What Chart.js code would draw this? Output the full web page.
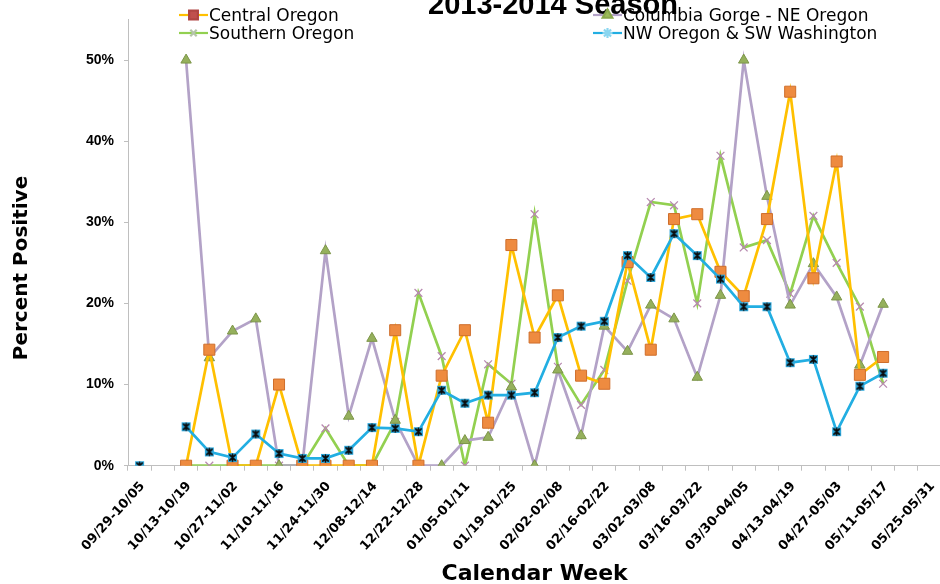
<!DOCTYPE html>
<html><head><meta charset="utf-8">
<script src="https://cdn.jsdelivr.net/npm/chart.js@4.4.1/dist/chart.umd.min.js"></script>
<style>
html,body{margin:0;padding:0;background:#fff;overflow:hidden;width:940px;height:584px}
#wrap{position:absolute;left:0;top:0;width:950px;height:584px}
</style></head><body>
<div id="wrap"><canvas id="c" width="950" height="584"></canvas></div>
<script>
const chartTitle = '2013-2014 Season';
const xAxisTitle = 'Calendar Week';
const yAxisTitle = 'Percent Positive';
const seriesNames = ['Central Oregon', 'Columbia Gorge - NE Oregon', 'Southern Oregon', 'NW Oregon & SW Washington'];
const weeks = ['09/29-10/05','10/06-10/12','10/13-10/19','10/20-10/26','10/27-11/02','11/03-11/09','11/10-11/16','11/17-11/23','11/24-11/30','12/01-12/07','12/08-12/14','12/15-12/21','12/22-12/28','12/29-01/04','01/05-01/11','01/12-01/18','01/19-01/25','01/26-02/01','02/02-02/08','02/09-02/15','02/16-02/22','02/23-03/01','03/02-03/08','03/09-03/15','03/16-03/22','03/23-03/29','03/30-04/05','04/06-04/12','04/13-04/19','04/20-04/26','04/27-05/03','05/04-05/10','05/11-05/17','05/18-05/24','05/25-05/31'];
const shownTickLabels = ['09/29-10/05','10/13-10/19','10/27-11/02','11/10-11/16','11/24-11/30','12/08-12/14','12/22-12/28','01/05-01/11','01/19-01/25','02/02-02/08','02/16-02/22','03/02-03/08','03/16-03/22','03/30-04/05','04/13-04/19','04/27-05/03','05/11-05/17','05/25-05/31'];
const yTickValues = [0, 10, 20, 30, 40, 50];
const centralOregon = [null,null,0,14.3,0,0,10.0,0,0,0,0,16.7,0,11.1,16.7,5.3,27.2,15.8,21.0,11.1,10.1,25.1,14.3,30.4,31.0,23.9,20.9,30.4,46.1,23.1,37.5,11.2,13.4,null,null];
const columbiaGorge = [null,null,50,13.3,16.6,18.1,0,0,26.5,6.1,15.7,5.6,0,0,3.1,3.5,9.7,0,11.8,3.7,17.2,14.1,19.8,18.1,10.9,21.0,50,33.2,19.8,24.9,20.8,12.4,19.9,null,null];
const southernOregon = [null,null,0,0,0,0,0,0,4.6,0,0,5.4,21.3,13.5,0,12.5,10.1,31.0,12.2,7.5,11.8,22.8,32.5,32.1,20.0,38.2,26.9,27.8,21.2,30.8,25.0,19.6,10.1,null,null];
const nwOregon = [0,null,4.8,1.7,1.0,3.9,1.5,0.9,0.9,1.9,4.7,4.6,4.2,9.3,7.7,8.7,8.7,9.0,15.8,17.2,17.8,25.9,23.2,28.6,25.9,23.0,19.6,19.6,12.7,13.1,4.2,9.8,11.4,null,null];

function makeNwMarker(){
  const c = document.createElement('canvas'); c.width = 11; c.height = 11;
  const g = c.getContext('2d');
  g.fillStyle = '#2EA9DD'; g.fillRect(1,1,9,9);
  g.strokeStyle = '#0a0a0a'; g.lineWidth = 1.7; g.lineCap='round';
  g.beginPath();
  g.moveTo(2.8,2.8); g.lineTo(8.2,8.2);
  g.moveTo(8.2,2.8); g.lineTo(2.8,8.2);
  g.moveTo(5.5,2); g.lineTo(5.5,9);
  g.stroke();
  return c;
}

const legendStyles = [
  {col:0,row:0, line:'#FFC000', style:'rect', radius:6.2, bg:'#C0504D', border:'#B04542', bw:1},
  {col:1,row:0, line:'#B3A2C7', style:'triangle', radius:5.5, bg:'#9BBB59', border:'#8AA84C', bw:1},
  {col:0,row:1, line:'#92D050', style:'crossRot', radius:4.5, bg:'#B5C4AA', border:'#B5C4AA', bw:1},
  {col:1,row:1, line:'#22AEE2', style:'star', radius:5, bg:'#8AD6F0', border:'#8AD6F0', bw:1}
];

const headerPlugin = {
  id: 'header',
  afterDraw(chart){
    const ctx = chart.ctx;
    ctx.save();
    ctx.fillStyle = '#000';
    ctx.font = 'bold 29px "Liberation Sans"';
    ctx.textAlign = 'center';
    ctx.textBaseline = 'alphabetic';
    ctx.fillText(chartTitle, 553, 14);
    const colX = [179, 593], rowY = [15, 33];
    legendStyles.forEach((s, i) => {
      const x = colX[s.col], y = rowY[s.row];
      ctx.strokeStyle = s.line; ctx.lineWidth = 2.2;
      ctx.beginPath(); ctx.moveTo(x, y); ctx.lineTo(x + 29, y); ctx.stroke();
      ctx.fillStyle = s.bg; ctx.strokeStyle = s.border;
      Chart.helpers.drawPoint(ctx, {pointStyle: s.style, radius: s.radius, rotation: 0, borderWidth: s.bw}, x + 14.5, y);
      ctx.fillStyle = '#000';
      ctx.font = '17px "DejaVu Sans"';
      ctx.textAlign = 'left';
      ctx.textBaseline = 'alphabetic';
      ctx.fillText(chart.data.datasets[i].label, x + 30, y + 6);
    });
    // y axis title
    ctx.translate(22, 268);
    ctx.rotate(-Math.PI / 2);
    ctx.font = 'bold 20px "DejaVu Sans"';
    ctx.textAlign = 'center';
    ctx.textBaseline = 'middle';
    ctx.fillStyle = '#000';
    ctx.fillText(yAxisTitle, 0, 0);
    ctx.restore();
  }
};

const nwMarker = makeNwMarker();

new Chart(document.getElementById('c'), {
  type: 'line',
  data: {
    labels: weeks,
    datasets: [
      {label: seriesNames[0], data: centralOregon, borderColor:'#FFC000', borderWidth:2.7, pointStyle:'rect', pointRadius:7.8, pointBackgroundColor:'#EE8B40', pointBorderColor:'#CF6E2B', pointBorderWidth:1, order:1, tension:0, spanGaps:false},
      {label: seriesNames[1], data: columbiaGorge, borderColor:'#B3A2C7', borderWidth:2.7, pointStyle:'triangle', pointRadius:6, pointBackgroundColor:'#95B05C', pointBorderColor:'#7C9548', pointBorderWidth:1, order:2, tension:0, spanGaps:false},
      {label: seriesNames[2], data: southernOregon, borderColor:'#92D050', borderWidth:2.7, pointStyle:'crossRot', pointRadius:5.5, pointBackgroundColor:'#B88AB0', pointBorderColor:'#B88AB0', pointBorderWidth:1.3, order:3, tension:0, spanGaps:false},
      {label: seriesNames[3], data: nwOregon, borderColor:'#22AEE2', borderWidth:2.7, pointStyle:nwMarker, pointRadius:5.5, pointBackgroundColor:'#2EA9DD', pointBorderColor:'#000', order:0, tension:0, spanGaps:false}
    ]
  },
  options: {
    responsive: false,
    animation: false,
    events: [],
    layout: {padding: {top: 19.5, left: 0, right: 1.6, bottom: 0}},
    plugins: {legend: {display: false}, title: {display: false}, tooltip: {enabled: false}},
    scales: {
      x: {
        type: 'category', offset: true,
        grid: {offset: true, drawOnChartArea: false, drawTicks: true, tickLength: 5, color: '#BFBFBF', lineWidth: 1},
        border: {color: '#BFBFBF', width: 1},
        ticks: {autoSkip: false, maxRotation: 48, minRotation: 48, padding: 8, labelOffset: 3, color: '#000',
          font: {family: 'DejaVu Sans', weight: 'bold', size: 13},
          callback: function(v, i){ const l = weeks[i]; return shownTickLabels.includes(l) ? l : ''; }},
        title: {display: true, text: xAxisTitle, color: '#000', font: {family: 'DejaVu Sans', weight: 'bold', size: 22}, padding: {top: 0, bottom: -3}},
        afterFit: s => { s.height = 118.3; }
      },
      y: {
        min: 0, max: 55,
        afterBuildTicks: s => { s.ticks = yTickValues.map(v => ({value: v})); },
        ticks: {padding: 10, color: '#000', font: {family: 'Liberation Sans', weight: 'bold', size: 14}, callback: v => v + '%'},
        grid: {drawOnChartArea: false, drawTicks: true, tickLength: 4, color: '#BFBFBF'},
        border: {color: '#BFBFBF', width: 1},
        title: {display: false},
        afterFit: s => { s.width = 128; }
      }
    }
  },
  plugins: [headerPlugin]
});
</script>
</body></html>
